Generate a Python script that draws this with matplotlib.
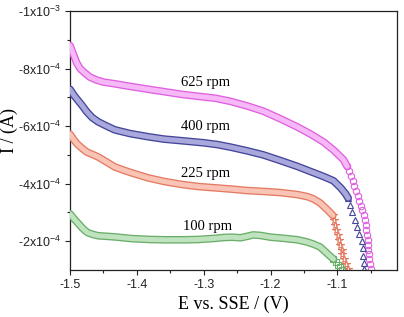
import matplotlib
matplotlib.use("Agg")
import matplotlib.pyplot as plt
import numpy as np

plt.rcParams['font.family'] = ['Liberation Sans', 'DejaVu Sans']
plt.rcParams['mathtext.fontset'] = 'custom'
plt.rcParams['mathtext.rm'] = 'Liberation Sans'
plt.rcParams['mathtext.it'] = 'Liberation Sans:italic'
plt.rcParams['mathtext.bf'] = 'Liberation Sans:bold'

# ---- data ----
x625 = [-1.5, -1.495, -1.49, -1.485, -1.478, -1.47, -1.46, -1.45, -1.433, -1.41, -1.383, -1.36,
        -1.332, -1.31, -1.283, -1.26, -1.235, -1.211, -1.185, -1.16, -1.14, -1.121, -1.106, -1.091,
        -1.0855, -1.083, -1.080, -1.0773, -1.0746, -1.072, -1.0694, -1.0671, -1.0649, -1.0627,
        -1.061, -1.0593, -1.0579, -1.0569, -1.0558, -1.0551, -1.0545, -1.0539, -1.0532, -1.0522,
        -1.0512, -1.0505]
y625 = [-8.8e-4, -8.5e-4, -8.2e-4, -8.0e-4, -7.85e-4, -7.7e-4, -7.6e-4, -7.53e-4, -7.47e-4, -7.38e-4,
        -7.28e-4, -7.2e-4, -7.1e-4, -7.04e-4, -6.97e-4, -6.86e-4, -6.7e-4, -6.52e-4, -6.25e-4,
        -5.97e-4, -5.72e-4, -5.45e-4, -5.17e-4, -4.83e-4,
        -4.6e-4, -4.43e-4, -4.26e-4, -4.09e-4, -3.92e-4, -3.75e-4, -3.58e-4, -3.41e-4, -3.24e-4,
        -3.07e-4, -2.9e-4, -2.73e-4, -2.56e-4, -2.39e-4, -2.22e-4, -2.05e-4, -1.88e-4, -1.71e-4,
        -1.54e-4, -1.37e-4, -1.2e-4, -1.05e-4]

x400 = [-1.5, -1.495, -1.49, -1.483, -1.475, -1.467, -1.458, -1.445, -1.433, -1.41, -1.383, -1.36,
        -1.332, -1.3, -1.28, -1.26, -1.235, -1.211, -1.185, -1.16, -1.14, -1.121, -1.106, -1.095,
        -1.088,
        -1.084, -1.0815, -1.0785, -1.0745, -1.0704, -1.0672, -1.064, -1.0625, -1.0612, -1.0605,
        -1.0598]
y400 = [-7.28e-4, -7.1e-4, -6.95e-4, -6.75e-4, -6.5e-4, -6.3e-4, -6.15e-4, -6.0e-4, -5.87e-4,
        -5.74e-4, -5.63e-4, -5.55e-4, -5.49e-4, -5.42e-4, -5.36e-4, -5.27e-4, -5.14e-4, -5.0e-4,
        -4.8e-4, -4.6e-4, -4.42e-4, -4.25e-4, -4.1e-4, -3.85e-4, -3.65e-4,
        -3.5e-4, -3.25e-4, -3.0e-4, -2.75e-4, -2.5e-4, -2.25e-4, -2.0e-4, -1.75e-4, -1.5e-4,
        -1.25e-4, -1.05e-4]

x225 = [-1.5, -1.495, -1.49, -1.483, -1.475, -1.465, -1.458, -1.445, -1.433, -1.42, -1.407, -1.383,
        -1.358, -1.332, -1.308, -1.28, -1.258, -1.235, -1.211, -1.185, -1.16, -1.145, -1.136,
        -1.126, -1.115,
        -1.107, -1.105, -1.1035, -1.1015, -1.0995, -1.0975, -1.0955, -1.0935, -1.0925, -1.09,
        -1.087, -1.0845]
y225 = [-5.72e-4, -5.55e-4, -5.4e-4, -5.25e-4, -5.1e-4, -5.0e-4, -4.93e-4, -4.75e-4, -4.58e-4,
        -4.47e-4, -4.37e-4, -4.2e-4, -4.07e-4, -3.97e-4, -3.9e-4, -3.85e-4, -3.81e-4, -3.76e-4,
        -3.73e-4, -3.69e-4, -3.62e-4, -3.55e-4, -3.47e-4, -3.33e-4, -3.09e-4,
        -2.9e-4, -2.73e-4, -2.56e-4, -2.39e-4, -2.22e-4, -2.05e-4, -1.88e-4, -1.71e-4, -1.54e-4,
        -1.37e-4, -1.2e-4, -1.05e-4]

x100 = [-1.5, -1.4925, -1.487, -1.482, -1.477, -1.473, -1.465, -1.458, -1.445, -1.433, -1.407,
        -1.38, -1.358, -1.33, -1.308, -1.283, -1.27, -1.258, -1.245, -1.235, -1.226, -1.215,
        -1.2, -1.18, -1.16, -1.145, -1.136, -1.126, -1.118, -1.111,
        -1.106, -1.102, -1.099, -1.096, -1.093]
y100 = [-2.95e-4, -2.74e-4, -2.6e-4, -2.47e-4, -2.36e-4, -2.29e-4, -2.23e-4, -2.19e-4, -2.17e-4,
        -2.15e-4, -2.09e-4, -2.06e-4, -2.05e-4, -2.05e-4, -2.06e-4, -2.1e-4, -2.13e-4, -2.14e-4,
        -2.12e-4, -2.17e-4, -2.22e-4, -2.2e-4, -2.14e-4, -2.1e-4, -2.05e-4, -1.97e-4, -1.9e-4,
        -1.8e-4, -1.63e-4, -1.48e-4,
        -1.38e-4, -1.28e-4, -1.18e-4, -1.09e-4, -1.0e-4]

labels = ['625 rpm', '400 rpm', '225 rpm', '100 rpm']
label_x = [-1.298, -1.298, -1.298, -1.295]
label_y = [-7.5e-4, -5.97e-4, -4.37e-4, -2.5e-4]

xticks = [-1.5, -1.4, -1.3, -1.2, -1.1]
xtick_labels = ['-1.5', '-1.4', '-1.3', '-1.2', '-1.1']
yticks = [-1e-3, -8e-4, -6e-4, -4e-4, -2e-4]
ytick_labels = [r'-1x10$^{-3}$', r'-8x10$^{-4}$', r'-6x10$^{-4}$', r'-4x10$^{-4}$', r'-2x10$^{-4}$']

# ---- style: marker, edge colour, fill colour, index where the open markers start ----
series = [
    (x625, y625, 'o', '#e060e0', '#f6b8f6', 24),
    (x400, y400, '^', '#45459a', '#a8a8dc', 25),
    (x225, y225, '*', '#e57a62', '#f9c4b6', 25),
    (x100, y100, 's', '#6aae6a', '#bfe3bf', 30),
]

fig = plt.figure(figsize=(4.04, 3.17), dpi=100)
ax = fig.add_axes([70/404, 1-270/317, 327/404, 259/317])

for xs, ys, mk, edge, fill, nflat in series:
    xs = np.asarray(xs); ys = np.asarray(ys)
    ax.plot(xs[nflat:], ys[nflat:], linestyle='none', marker=mk,
            markersize=4.6 if mk != '*' else 5.8,
            markerfacecolor='none', markeredgecolor=edge, markeredgewidth=0.8, zorder=2)
    ax.plot(xs[:nflat + 1], ys[:nflat + 1], color=edge, lw=5.5, solid_capstyle='round',
            solid_joinstyle='round', zorder=3)
    ax.plot(xs[:nflat + 1], ys[:nflat + 1], color=fill, lw=3.6, solid_capstyle='round',
            solid_joinstyle='round', zorder=4)

for t, lx, ly in zip(labels, label_x, label_y):
    ax.text(lx, ly, t, ha='center', va='center', fontsize=10.5,
            family=['Liberation Serif'], zorder=6)

ax.set_xlim(-1.5, -1.011)
ax.set_ylim(-1e-4, -1e-3)
ax.set_xticks(xticks)
ax.set_xticklabels(xtick_labels)
ax.set_xticks([-1.45, -1.35, -1.25, -1.15, -1.05], minor=True)
ax.set_yticks(yticks)
ax.set_yticklabels(ytick_labels)
ax.set_yticks([-9e-4, -7e-4, -5e-4, -3e-4], minor=True)
ax.tick_params(which='both', direction='out', top=False, right=False, labelsize=9, width=0.8,
               colors='#222222')
ax.tick_params(which='major', length=3.5, pad=3)
ax.tick_params(which='minor', length=2.5)
for s in ax.spines.values():
    s.set_linewidth(0.9)
    s.set_color('#222222')

ax.set_xlabel('E vs. SSE / (V)', fontsize=13, family=['Liberation Serif'], labelpad=3)
ax.set_ylabel('I / (A)', fontsize=13, family=['Liberation Serif'])
ax.yaxis.set_label_coords(-0.158, 0.54)

fig.savefig('out.png', dpi=100)
